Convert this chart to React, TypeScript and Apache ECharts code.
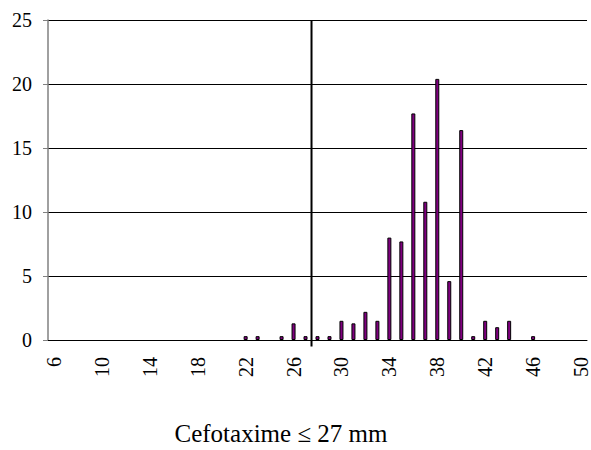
import React, { useEffect, useRef } from "react";
import * as echarts from "echarts";

const categories: string[] = [
  "6","7","8","9","10","11","12","13","14","15","16","17","18","19","20",
  "21","22","23","24","25","26","27","28","29","30","31","32","33","34","35",
  "36","37","38","39","40","41","42","43","44","45","46","47","48","49","50",
];
const values: number[] = [
  0,0,0,0,0,0,0,0,0,0,0,0,0,0,0,
  0,0.3,0.3,0,0.3,1.3,0.3,0.3,0.3,1.5,1.3,2.2,1.5,8,7.7,
  17.7,10.8,20.4,4.6,16.4,0.3,1.5,1.0,1.5,0,0.3,0,0,0,0,
];
const yTicks = [0, 5, 10, 15, 20, 25];
const breakpointIndex = 22; // boundary between 27 and 28 mm
const xTitle = "Cefotaxime ≤ 27 mm";

export default function App() {
  const ref = useRef<HTMLDivElement>(null);
  useEffect(() => {
    document.body.style.margin = "0";
    if (!ref.current) return;
    const chart = echarts.init(ref.current, null, { renderer: "svg" });
    const font = "Liberation Serif";
    chart.setOption({
      animation: false,
      textStyle: { fontFamily: font },
      title: {
        text: xTitle,
        left: 276,
        top: 416,
        textAlign: "center",
        textStyle: { fontFamily: font, fontSize: 25, fontWeight: "normal", color: "#000" },
      },
      grid: { left: 48, right: 2, top: 20, bottom: 110, containLabel: false },
      xAxis: [
        {
          type: "category",
          data: categories,
          boundaryGap: true,
          axisLine: { lineStyle: { color: "#000", width: 1 } },
          axisTick: { interval: 0, length: 5, lineStyle: { color: "#555" } },
          axisLabel: {
            interval: 3,
            rotate: 90,
            margin: 17,
            fontFamily: font,
            fontSize: 20,
            color: "#000",
          },
          splitLine: { show: false },
        },
        { type: "value", min: 0, max: categories.length, show: false },
      ],
      yAxis: {
        type: "value",
        min: yTicks[0],
        max: yTicks[yTicks.length - 1],
        interval: 5,
        axisLine: { show: true, lineStyle: { color: "#808080", width: 1.5 } },
        axisTick: { show: true, length: 5, lineStyle: { color: "#808080" } },
        axisLabel: { margin: 16, fontFamily: font, fontSize: 20, color: "#000" },
        splitLine: { lineStyle: { color: "#000", width: 1 } },
      },
      series: [
        {
          type: "bar",
          data: values.map((v) => (v === 0 ? null : v)),
          barWidth: 4,
          itemStyle: { color: "#800080", borderColor: "#000", borderWidth: 1 },
        },
        {
          type: "line",
          xAxisIndex: 1,
          data: [[breakpointIndex, -0.5], [breakpointIndex, yTicks[yTicks.length - 1]]],
          symbol: "none",
          clip: false,
          lineStyle: { color: "#000", width: 2 },
        },
      ],
    });
    return () => chart.dispose();
  }, []);
  return <div ref={ref} style={{ width: 591, height: 450 }} />;
}
